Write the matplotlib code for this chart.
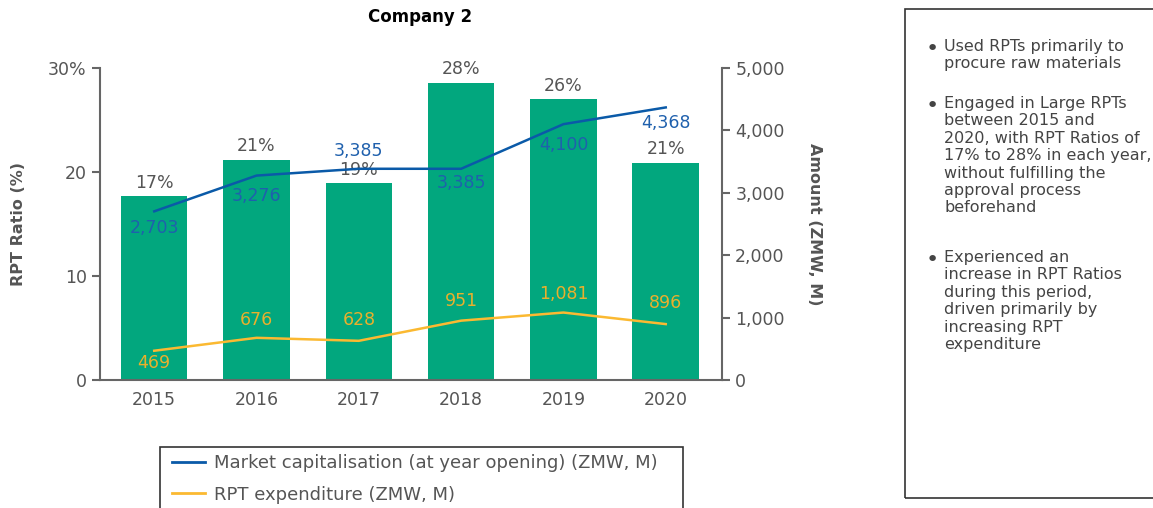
import numpy as np
import matplotlib.pyplot as plt
from matplotlib.patches import Rectangle
from matplotlib.lines import Line2D

plt.rcParams['font.family'] = ['DejaVu Sans']

# Datos
years = ['2015', '2016', '2017', '2018', '2019', '2020']
rpt_ratio = [17.7, 21.2, 18.9, 28.6, 27.0, 20.9]
ratio_labels = ['17%', '21%', '19%', '28%', '26%', '21%']
market_cap = [2703, 3276, 3385, 3385, 4100, 4368]
rpt_exp = [469, 676, 628, 951, 1081, 896]

# Desplazamiento de etiquetas (puntos): negativo = debajo
cap_offsets = [-12, -15, 13, -10, -15, -11]
exp_offsets = [-9, 13, 15, 14, 13, 15]

bullets = [
    "Used RPTs primarily to\nprocure raw materials",
    "Engaged in Large RPTs\nbetween 2015 and\n2020, with RPT Ratios of\n17% to 28% in each year,\nwithout fulfilling the\napproval process\nbeforehand",
    "Experienced an\nincrease in RPT Ratios\nduring this period,\ndriven primarily by\nincreasing RPT\nexpenditure",
]

green = '#02a77e'
blue = '#0a5aa8'
blue_txt = '#1f60ad'
orange = '#fbb931'
orange_txt = '#eab02c'
gray = '#555555'
spine = '#666666'

W, H = 1153, 508
fig = plt.figure(figsize=(W / 100, H / 100), dpi=100)

def fx(x):
    return x / W

def fy(y):
    return 1 - y / H

ax = fig.add_axes([fx(100), fy(380), fx(722) - fx(100), fy(68) - fy(380)])
x = np.arange(len(years))

ax.bar(x, rpt_ratio, width=0.65, color=green, zorder=1)
ax.set_ylim(0, 30)
ax.set_xlim(-0.53, 5.55)
ax.set_yticks([0, 10, 20, 30])
ax.set_yticklabels(['0', '10', '20', '30%'])
ax.set_xticks(x)
ax.set_xticklabels(years)
ax.set_ylabel('RPT Ratio (%)', fontsize=11.5, fontweight='bold', color=gray, labelpad=16)

for s in ['top', 'right']:
    ax.spines[s].set_visible(False)
for s in ['left', 'bottom']:
    ax.spines[s].set_color(spine)
    ax.spines[s].set_linewidth(1.5)
ax.tick_params(axis='y', colors=spine, labelcolor=gray, labelsize=12.5, length=6, width=1.5)
ax.tick_params(axis='x', length=0, labelcolor=gray, labelsize=12.5, pad=8)

for xi, v, lab in zip(x, rpt_ratio, ratio_labels):
    ax.annotate(lab, (xi, v), xytext=(0, 3), textcoords='offset points',
                ha='center', va='bottom', fontsize=12.5, color=gray)

ax2 = ax.twinx()
ax2.set_ylim(0, 5000)
ax2.set_yticks([0, 1000, 2000, 3000, 4000, 5000])
ax2.set_yticklabels(['0', '1,000', '2,000', '3,000', '4,000', '5,000'])
for s in ['top', 'left', 'bottom']:
    ax2.spines[s].set_visible(False)
ax2.spines['right'].set_color(spine)
ax2.spines['right'].set_linewidth(1.5)
ax2.tick_params(axis='y', colors=spine, labelcolor=gray, labelsize=12.5, length=6, width=1.5)
ax2.set_ylabel('Amount (ZMW, M)', fontsize=11.5, fontweight='bold', color=gray,
               rotation=-90, labelpad=27)

ax2.plot(x, market_cap, color=blue, lw=1.8, zorder=3)
ax2.plot(x, rpt_exp, color=orange, lw=1.8, zorder=3)

for xi, v, off in zip(x, market_cap, cap_offsets):
    ax2.annotate(f'{v:,}', (xi, v), xytext=(0, off), textcoords='offset points',
                 ha='center', va='center', fontsize=12.5, color=blue_txt)
for xi, v, off in zip(x, rpt_exp, exp_offsets):
    ax2.annotate(f'{v:,}', (xi, v), xytext=(0, off), textcoords='offset points',
                 ha='center', va='center', fontsize=12.5, color=orange_txt)

fig.text(fx(420), fy(17), 'Company 2', ha='center', va='center',
         fontsize=12, fontweight='bold', color='black')

# Leyenda (recuadro manual, cortado por abajo)
fig.patches.append(Rectangle((fx(160), fy(530)), fx(683) - fx(160), fy(447) - fy(530),
                             transform=fig.transFigure, fill=False,
                             edgecolor='#333333', lw=1.2))
handles = [Line2D([], [], color=blue, lw=2), Line2D([], [], color=orange, lw=2)]
fig.legend(handles, ['Market capitalisation (at year opening) (ZMW, M)', 'RPT expenditure (ZMW, M)'],
           loc='upper left', bbox_to_anchor=(fx(156), fy(438)), frameon=False,
           fontsize=13, labelcolor=gray, handlelength=1.8, handletextpad=0.5,
           labelspacing=0.75, borderpad=0.4)

# Cuadro de texto derecho
fig.patches.append(Rectangle((fx(905), fy(498)), fx(1170) - fx(905), fy(9) - fy(498),
                             transform=fig.transFigure, fill=False,
                             edgecolor='#333333', lw=1.2))
para_y = [49, 106, 260]
for yy, txt in zip(para_y, bullets):
    fig.text(fx(932), fy(yy), '\u2022', ha='center', va='center', fontsize=16, color='#444444')
    fig.text(fx(944), fy(yy - 10), txt, ha='left', va='top', fontsize=11.5,
             color='#444444', linespacing=1.2)

fig.savefig('out.png', dpi=100)
